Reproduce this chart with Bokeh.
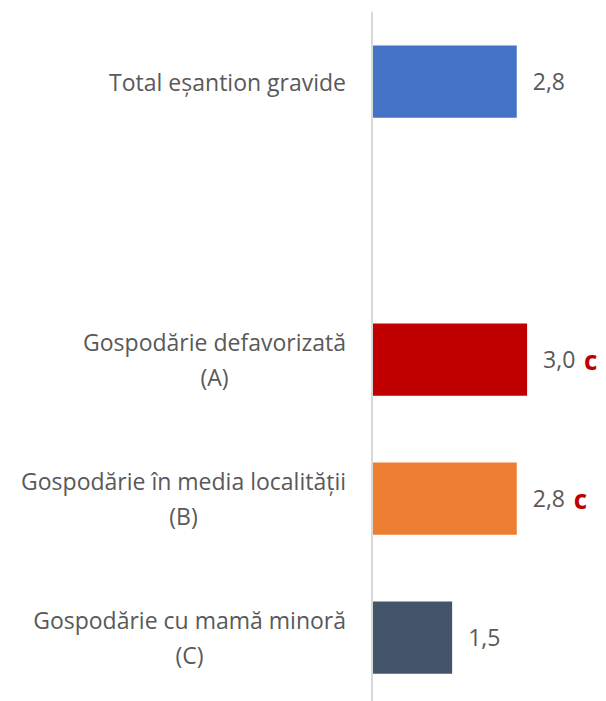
from bokeh.plotting import figure
from bokeh.models import ColumnDataSource, Range1d, Span
from bokeh.core.properties import value
from bokeh.embed import file_html
from bokeh.resources import INLINE

# ---- data ----
categories = ["Total eșantion gravide", "", "Gospodărie defavorizată\n(A)",
              "Gospodărie în media localității\n(B)", "Gospodărie cu mamă minoră\n(C)"]
values = [2.8, None, 3.0, 2.8, 1.55]
value_labels = ["2,8", "", "3,0", "2,8", "1,5"]
sig_marks = ["", "", "c", "c", ""]
colors = ["#4472C4", None, "#C00000", "#ED7D31", "#44546A"]

pos = list(range(len(categories)))
idx = [i for i, v in enumerate(values) if v is not None]

bars = ColumnDataSource(dict(
    y=[pos[i] for i in idx], v=[values[i] for i in idx],
    c=[colors[i] for i in idx], lab=[value_labels[i] for i in idx],
    sig=[sig_marks[i] for i in idx], zero=[0] * len(idx)))
cats = ColumnDataSource(dict(y=[pos[i] for i in range(len(categories)) if categories[i]],
                             t=[c for c in categories if c],
                             zero=[0] * sum(1 for c in categories if c)))

p = figure(width=598, height=701, output_backend="svg", toolbar_location=None,
           x_axis_location=None, y_axis_location=None,
           x_range=Range1d(-7.031, 4.381), y_range=Range1d(4.46, -0.504),
           min_border_left=8, min_border_right=0, min_border_top=11, min_border_bottom=0)
p.outline_line_color = None
p.xgrid.visible = False
p.ygrid.visible = False

p.hbar(y="y", left="zero", right="v", height=0.52, fill_color="c", line_color=None, source=bars)
p.add_layout(Span(location=0, dimension="height", line_color="#D9D9D9", line_width=2))

p.text(x="v", y="y", text="lab", source=bars, x_offset=16, text_align="left",
       text_baseline="middle", text_font=value("Open Sans"), text_font_size="23px",
       text_color="#595959")
p.text(x="v", y="y", text="sig", source=bars, x_offset=57, text_align="left",
       text_baseline="middle", text_font=value("Open Sans"), text_font_size="26px",
       text_font_style="bold", text_color="#C00000")
p.text(x="zero", y="y", text="t", source=cats, x_offset=-26, anchor="center_right",
       text_align="center", text_baseline="middle", text_font=value("Open Sans"),
       text_font_size="23px", text_color="#595959", text_line_height=1.1)

open("out.html", "w").write(file_html(p, INLINE))
